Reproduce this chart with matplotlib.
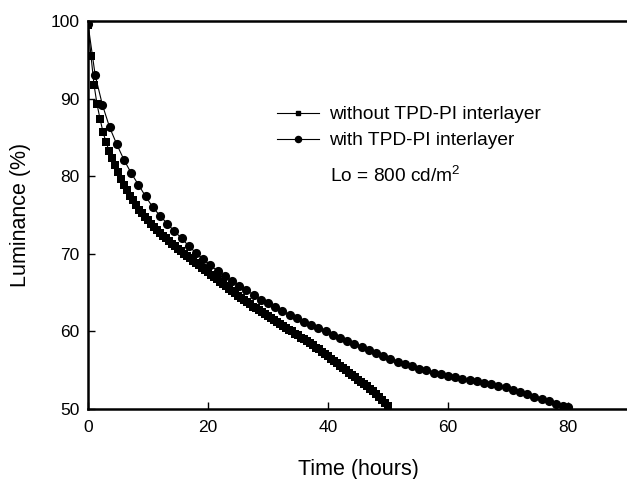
"""Luminance decay of devices with and without the TPD-PI interlayer."""

import matplotlib

matplotlib.use("Agg")
import matplotlib.pyplot as plt
from matplotlib.lines import Line2D

plt.rcParams["font.family"] = ["Liberation Sans", "DejaVu Sans"]

# without TPD-PI interlayer (squares), sampled every 0.5 h
time_without = [
    0.0, 0.5, 1.0, 1.5, 2.0, 2.5, 3.0, 3.5, 4.0, 4.5,
    5.0, 5.5, 6.0, 6.5, 7.0, 7.5, 8.0, 8.5, 9.0, 9.5,
    10.0, 10.5, 11.0, 11.5, 12.0, 12.5, 13.0, 13.5, 14.0, 14.5,
    15.0, 15.5, 16.0, 16.5, 17.0, 17.5, 18.0, 18.5, 19.0, 19.5,
    20.0, 20.5, 21.0, 21.5, 22.0, 22.5, 23.0, 23.5, 24.0, 24.5,
    25.0, 25.5, 26.0, 26.5, 27.0, 27.5, 28.0, 28.5, 29.0, 29.5,
    30.0, 30.5, 31.0, 31.5, 32.0, 32.5, 33.0, 33.5, 34.0, 34.5,
    35.0, 35.5, 36.0, 36.5, 37.0, 37.5, 38.0, 38.5, 39.0, 39.5,
    40.0, 40.5, 41.0, 41.5, 42.0, 42.5, 43.0, 43.5, 44.0, 44.5,
    45.0, 45.5, 46.0, 46.5, 47.0, 47.5, 48.0, 48.5, 49.0, 49.5,
    50.0,
]
lum_without = [
    99.5, 95.5, 91.8, 89.3, 87.4, 85.7, 84.4, 83.3, 82.3, 81.4,
    80.5, 79.7, 78.9, 78.2, 77.5, 76.9, 76.3, 75.7, 75.2, 74.7,
    74.3, 73.9, 73.5, 73.1, 72.7, 72.3, 72.0, 71.6, 71.3, 71.0,
    70.6, 70.3, 70.0, 69.7, 69.4, 69.1, 68.8, 68.5, 68.2, 67.9,
    67.6, 67.3, 67.0, 66.7, 66.4, 66.1, 65.8, 65.5, 65.2, 64.9,
    64.6, 64.3, 64.0, 63.8, 63.5, 63.2, 63.0, 62.7, 62.5, 62.2,
    62.0, 61.7, 61.5, 61.2, 61.0, 60.7, 60.5, 60.2, 60.0, 59.7,
    59.5, 59.2, 59.0, 58.7, 58.5, 58.2, 57.9, 57.7, 57.4, 57.1,
    56.8, 56.5, 56.2, 55.9, 55.6, 55.3, 55.0, 54.7, 54.4, 54.1,
    53.8, 53.5, 53.2, 52.9, 52.6, 52.3, 51.9, 51.6, 51.2, 50.8,
    50.4,
]

# with TPD-PI interlayer (circles), sampled every 1.2 h
time_with = [
    0.0, 1.2, 2.4, 3.6, 4.8, 6.0, 7.2, 8.4, 9.6, 10.8,
    12.0, 13.2, 14.4, 15.6, 16.8, 18.0, 19.2, 20.4, 21.6, 22.8,
    24.0, 25.2, 26.4, 27.6, 28.8, 30.0, 31.2, 32.4, 33.6, 34.8,
    36.0, 37.2, 38.4, 39.6, 40.8, 42.0, 43.2, 44.4, 45.6, 46.8,
    48.0, 49.2, 50.4, 51.6, 52.8, 54.0, 55.2, 56.4, 57.6, 58.8,
    60.0, 61.2, 62.4, 63.6, 64.8, 66.0, 67.2, 68.4, 69.6, 70.8,
    72.0, 73.2, 74.4, 75.6, 76.8, 78.0, 79.2, 80.0,
]
lum_with = [
    99.6, 93.0, 89.2, 86.3, 84.1, 82.1, 80.4, 78.9, 77.4, 76.0,
    74.9, 73.9, 72.9, 72.0, 71.0, 70.1, 69.3, 68.5, 67.8, 67.1,
    66.5, 65.9, 65.3, 64.7, 64.1, 63.6, 63.1, 62.6, 62.1, 61.7,
    61.2, 60.8, 60.4, 60.0, 59.6, 59.2, 58.8, 58.4, 58.0, 57.6,
    57.2, 56.8, 56.5, 56.1, 55.8, 55.5, 55.2, 55.0, 54.7, 54.5,
    54.3, 54.1, 53.9, 53.7, 53.6, 53.4, 53.2, 53.0, 52.8, 52.5,
    52.2, 51.9, 51.6, 51.3, 51.0, 50.7, 50.4, 50.2,
]

labels = ["without TPD-PI interlayer", "with TPD-PI interlayer"]

W, H = 627, 479
fig = plt.figure(figsize=(W / 100, H / 100), dpi=100)
ax = fig.add_axes([88 / W, (H - 409) / H, 540 / W, 388 / H])

ax.plot(time_without, lum_without, color="black", linewidth=0.8,
        marker="s", markersize=5.4, markeredgewidth=0)
ax.plot(time_with, lum_with, color="black", linewidth=0.8,
        marker="o", markersize=6.6, markeredgewidth=0)

ax.set_xlim(0, 90)
ax.set_ylim(50, 100)
ax.set_xticks([0, 20, 40, 60, 80])
ax.set_yticks([50, 60, 70, 80, 90, 100])
ax.tick_params(direction="in", length=5, width=1, labelsize=12.5)
ax.tick_params(axis="x", pad=8)
ax.tick_params(axis="y", pad=6)
for side in ("left", "bottom", "top"):
    ax.spines[side].set_linewidth(1.8)
ax.spines["right"].set_visible(False)

ax.set_xlabel("Time (hours)", fontsize=15.5, labelpad=17)
ax.set_ylabel("Luminance (%)", fontsize=15.5, labelpad=14)

handles = [
    Line2D([], [], color="black", linewidth=0.8, marker="s", markersize=3.4),
    Line2D([], [], color="black", linewidth=0.8, marker="o", markersize=4.4),
]
ax.legend(handles, labels, loc="upper left", frameon=False, fontsize=13.8,
          bbox_to_anchor=(277 / W, 1 - 106 / H), bbox_transform=fig.transFigure,
          borderpad=0, borderaxespad=0, handlelength=2.2, handletextpad=0.5,
          labelspacing=0.45)
fig.text(330 / W, 1 - 176 / H, "Lo = 800 cd/m$^{\\mathregular{2}}$",
         fontsize=13.8, ha="left", va="center")

fig.savefig("out.png", dpi=100)
